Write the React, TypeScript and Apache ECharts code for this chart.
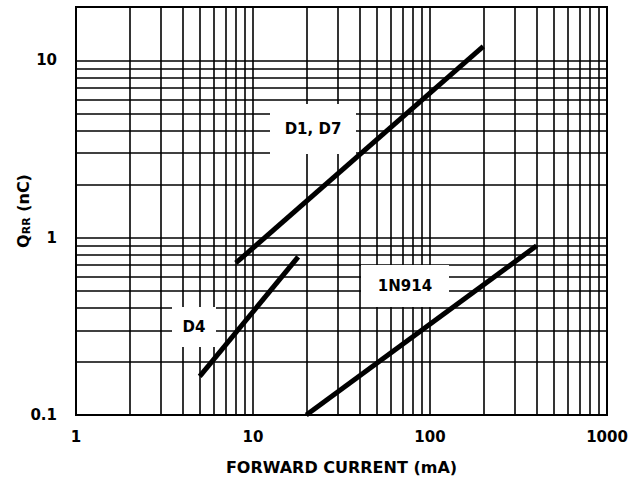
import React, { useEffect, useRef } from "react";
import * as echarts from "echarts";

// Curves (forward current mA, Qrr nC)
const d1d7X = [8, 200];
const d1d7Y = [0.72, 12];
const d4X = [5, 18];
const d4Y = [0.165, 0.78];
const n914X = [20, 400];
const n914Y = [0.1, 0.9];

// Grid lines (log decades with 2..9 subdivisions)
const xGrid = [2, 3, 4, 5, 6, 7, 8, 9, 10, 20, 30, 40, 50, 60, 70, 80, 90, 100, 200, 300, 400, 500, 600, 700, 800, 900];
const yGrid = [0.2, 0.3, 0.4, 0.5, 0.6, 0.7, 0.8, 0.9, 1, 2, 3, 4, 5, 6, 7, 8, 9, 10];

const xTickLabels = ["1", "10", "100", "1000"];
const yTickLabels = ["0.1", "1", "10"];

const FONT = '"DejaVu Sans", "Liberation Sans", Arial, sans-serif';

function pick(v: number, labels: string[]) {
  const s = labels.find((l) => Math.abs(Math.log10(parseFloat(l)) - Math.log10(v)) < 1e-6);
  return s ?? "";
}

export default function App() {
  const ref = useRef<HTMLDivElement>(null);
  useEffect(() => {
    if (!ref.current) return;
    document.body.style.margin = "0";
    const chart = echarts.init(ref.current, undefined, { renderer: "svg" });
    const lineSeries = (name: string, xs: number[], ys: number[]) => ({
      name,
      type: "line",
      data: xs.map((x, i) => [x, ys[i]]),
      showSymbol: false,
      symbol: "none",
      lineStyle: { color: "#000", width: 5, cap: "butt" },
      z: 10,
      silent: true,
    });
    const box = (cx: number, cy: number, w: number, h: number, text: string) => ({
      type: "group",
      z: 6,
      children: [
        { type: "rect", z: 6, shape: { x: cx - w / 2, y: cy - h / 2, width: w, height: h }, style: { fill: "#fff" } },
        {
          type: "text",
          z: 7,
          x: cx,
          y: cy,
          style: { text, font: `bold 15px ${FONT}`, fill: "#000", align: "center", verticalAlign: "middle" },
        },
      ],
    });
    chart.setOption({
      animation: false,
      backgroundColor: "#fff",
      grid: {
        left: 76,
        right: 28,
        top: 7,
        bottom: 71,
        show: true,
        borderColor: "#000",
        borderWidth: 2,
        backgroundColor: "#fff",
      },
      xAxis: {
        type: "log",
        logBase: 10,
        min: 1,
        max: 1000,
        name: "FORWARD CURRENT (mA)",
        nameLocation: "middle",
        nameGap: 44,
        nameMoveOverlap: false,
        nameTextStyle: { fontFamily: FONT, fontWeight: "bold", fontSize: 16, color: "#000" },
        axisLine: { show: false },
        axisTick: { show: false },
        splitLine: { show: false },
        axisLabel: {
          margin: 14,
          fontFamily: FONT,
          fontWeight: "bold",
          fontSize: 15,
          color: "#000",
          formatter: (v: number) => pick(v, xTickLabels),
        },
      },
      yAxis: {
        type: "log",
        logBase: 10,
        min: 0.1,
        max: 20,
        name: "Q{sub|RR} (nC)",
        nameLocation: "middle",
        nameGap: 44,
        nameMoveOverlap: false,
        nameRotate: 90,
        nameTextStyle: {
          fontFamily: FONT,
          fontWeight: "bold",
          fontSize: 16,
          color: "#000",
          rich: {
            sub: { fontFamily: FONT, fontWeight: "bold", fontSize: 11, color: "#000", padding: [6, 0, 0, 0] },
          },
        },
        axisLine: { show: false },
        axisTick: { show: false },
        splitLine: { show: false },
        axisLabel: {
          margin: 19,
          fontFamily: FONT,
          fontWeight: "bold",
          fontSize: 15,
          color: "#000",
          formatter: (v: number) => pick(v, yTickLabels),
        },
      },
      series: [
        {
          type: "line",
          data: [[1, 0.1]],
          showSymbol: false,
          symbol: "none",
          lineStyle: { width: 0 },
          z: 1,
          silent: true,
          markLine: {
            z: 1,
            silent: true,
            symbol: ["none", "none"],
            label: { show: false },
            lineStyle: { color: "#000", width: 1.6, type: "solid" },
            emphasis: { disabled: true },
            data: [...xGrid.map((v) => ({ xAxis: v })), ...yGrid.map((v) => ({ yAxis: v }))],
          },
        },
        lineSeries("D1, D7", d1d7X, d1d7Y),
        lineSeries("D4", d4X, d4Y),
        lineSeries("1N914", n914X, n914Y),
      ],
      graphic: [
        box(313, 129, 86, 50, "D1, D7"),
        box(194, 327, 44, 40, "D4"),
        box(405, 286, 88, 42, "1N914"),
      ],
    });
    return () => chart.dispose();
  }, []);
  return <div ref={ref} style={{ width: 635, height: 486 }} />;
}
